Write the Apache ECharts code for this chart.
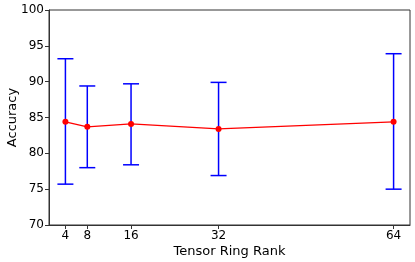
<!DOCTYPE html>
<html>
<head>
<meta charset="utf-8">
<script src="https://cdn.jsdelivr.net/npm/echarts@6/dist/echarts.min.js"></script>
<style>html,body{margin:0;padding:0;background:#fff}#c{width:415px;height:262px}</style>
</head>
<body>
<div id="c"></div>
<script>
var ranks = [4, 8, 16, 32, 64];
var meanAcc = [84.4, 83.7, 84.1, 83.4, 84.4];
var upperAcc = [93.2, 89.4, 89.7, 89.9, 93.9];
var lowerAcc = [75.7, 78.0, 78.4, 76.9, 75.0];
var yTicks = [70, 75, 80, 85, 90, 95, 100];

var chart = echarts.init(document.getElementById('c'));
var errData = ranks.map(function (r, i) { return [r, lowerAcc[i], upperAcc[i]]; });
var lineData = ranks.map(function (r, i) { return [r, meanAcc[i]]; });
var font = 'DejaVu Sans';
chart.setOption({
  animation: false,
  grid: { left: 49, right: 5, top: 10, bottom: 37, show: true, borderColor: '#333', borderWidth: 1, containLabel: false, outerBoundsMode: 'none' },
  xAxis: {
    type: 'value', min: 1, max: 67,
    name: 'Tensor Ring Rank', nameLocation: 'middle', nameGap: 20, nameMoveOverlap: false,
    nameTextStyle: { fontFamily: font, fontSize: 13, color: '#000' },
    splitLine: { show: false },
    axisLine: { lineStyle: { color: '#333' } },
    axisTick: { show: true, length: 4, customValues: ranks, lineStyle: { color: '#333' } },
    axisLabel: { customValues: ranks, fontFamily: font, fontSize: 12, color: '#000', margin: 5 }
  },
  yAxis: {
    type: 'value', min: 70, max: 100, interval: 5,
    name: 'Accuracy', nameLocation: 'middle', nameGap: 30, nameMoveOverlap: false,
    nameTextStyle: { fontFamily: font, fontSize: 13, color: '#000' },
    splitLine: { show: false },
    axisLine: { show: true, lineStyle: { color: '#333' } },
    axisTick: { show: true, length: 4, lineStyle: { color: '#333' } },
    axisLabel: { fontFamily: font, fontSize: 12, color: '#000', margin: 5 }
  },
  series: [
    {
      type: 'custom',
      data: errData,
      renderItem: function (params, api) {
        var x = api.value(0);
        var lo = api.coord([x, api.value(1)]);
        var hi = api.coord([x, api.value(2)]);
        var w = 8;
        var st = { stroke: '#0000ff', lineWidth: 1.5 };
        return {
          type: 'group',
          children: [
            { type: 'line', shape: { x1: lo[0], y1: lo[1], x2: hi[0], y2: hi[1] }, style: st },
            { type: 'line', shape: { x1: lo[0] - w, y1: lo[1], x2: lo[0] + w, y2: lo[1] }, style: st },
            { type: 'line', shape: { x1: hi[0] - w, y1: hi[1], x2: hi[0] + w, y2: hi[1] }, style: st }
          ]
        };
      },
      z: 2
    },
    {
      type: 'line',
      data: lineData,
      symbol: 'circle', symbolSize: 6,
      lineStyle: { color: '#ff0000', width: 1.3 },
      itemStyle: { color: '#ff0000' },
      z: 3
    }
  ]
});
</script>
</body>
</html>
